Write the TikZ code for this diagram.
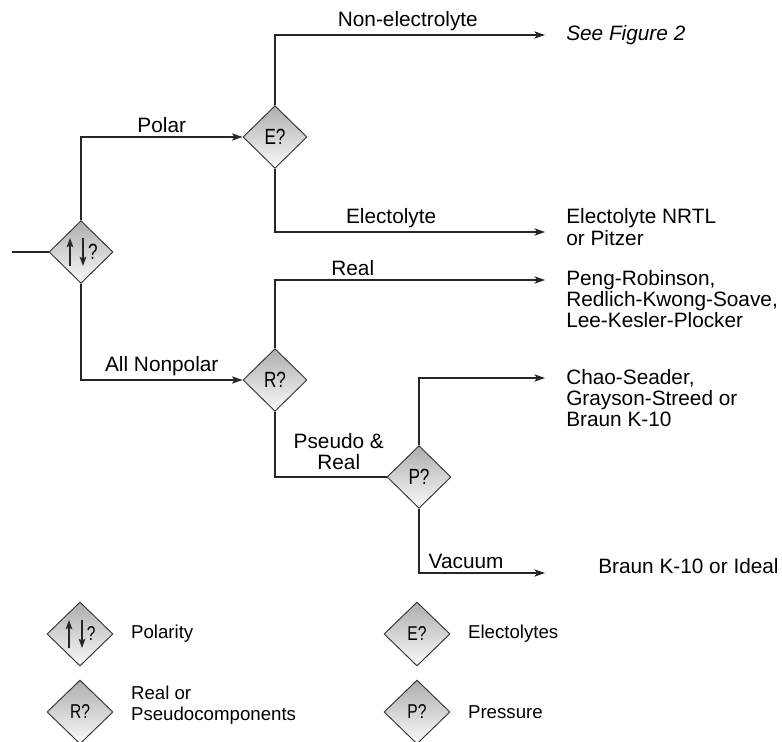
\documentclass[tikz,border=0pt]{standalone}
\usepackage{fontspec}
\setmainfont{Liberation Sans}
\newfontfamily\condfont{Liberation Sans}[FakeStretch=0.78]
\usetikzlibrary{shapes.geometric,arrows.meta,positioning}

\tikzset{
  dia/.style={diamond, draw=black!80, line width=0.7pt, top color=black!32,
    bottom color=black!2, minimum width=48pt, minimum height=47pt, inner sep=0pt,
    font=\condfont\fontsize{16.5}{17}\selectfont},
  ldia/.style={dia, minimum width=49.5pt, minimum height=48pt,
    font=\condfont\fontsize{15}{16}\selectfont},
  lbl/.style={font=\fontsize{15.6}{16}\selectfont, inner sep=3pt},
  res/.style={lbl, anchor=west, align=left, inner sep=0pt},
  leg/.style={anchor=west, align=left, inner sep=0pt, font=\fontsize{14}{16}\selectfont},
  flow/.style={line width=0.8pt, draw=black!85},
  arr/.style={flow, -{Stealth[length=8pt,width=5.5pt,inset=2pt]}},
  pol/.style={flow, line width=0.9pt, -{Stealth[length=7pt,width=5pt,inset=1.5pt]}},
}

\begin{document}
\begin{tikzpicture}[x=0.75pt,y=-0.75pt]
\useasboundingbox (0,0) rectangle (782,742);
\node[dia] (pol) at (81,252) {\hspace*{18pt}?};
\node[dia] (elec) at (275,137) {E?};
\node[dia] (real) at (275,380) {R?};
\node[dia] (pres) at (419,477) {P?};
\coordinate (in) at (12,252);
%----------------------------------
\coordinate (e1) at (545,35);
\coordinate (e2) at (545,232);
\coordinate (e3) at (545,280);
\coordinate (e4) at (545,378);
\coordinate (e5) at (545,573);
\node[res, font=\fontsize{15.6}{16}\selectfont\itshape] (fig2) at (566,35) {See Figure 2};
\node[res] (nrtl) at (566,227) {Electolyte NRTL\\or Pitzer};
\node[res] (peng) at (566,299) {Peng-Robinson,\\Redlich-Kwong-Soave,\\Lee-Kesler-Plocker};
\node[res] (chao) at (566,398) {Chao-Seader,\\Grayson-Streed or\\Braun K-10};
\node[res] (ideal) at (598,566) {Braun K-10 or Ideal};
%----------------------------------
\draw[flow] (in) -- (pol.west);
\draw[arr] (pol.north) |- node[lbl, above, pos=0.75] {Polar} (elec.west);
\draw[arr] (pol.south) |- node[lbl, above, pos=0.75] {All Nonpolar} (real.west);
\draw[arr] (elec.north) |- node[lbl, above, pos=0.746] {Non-electrolyte} (e1);
\draw[arr] (elec.south) |- node[lbl, above, pos=0.715] {Electolyte} (e2);
\draw[arr] (real.north) |- node[lbl, above, pos=0.644] {Real} (e3);
\draw[flow] (real.south) |- node[lbl, above, pos=0.786, align=center, inner sep=5pt] {Pseudo \&\\Real} (pres.west);
\draw[arr] (pres.north) |- (e4);
\draw[arr] (pres.south) |- node[lbl, above, pos=0.687] {Vacuum} (e5);
%---------------------------------- legend
\node[ldia] (lpol) at (80,634) {\hspace*{17pt}?};
\node[ldia] (lreal) at (80,712) {R?};
\node[ldia] (lelec) at (417,634) {E?};
\node[ldia] (lpres) at (417,712) {P?};
\node[leg, right=13pt of lpol.east] (tpol) {Polarity};
\node[leg, right=13pt of lreal.east, yshift=5pt] (treal) {Real or\\Pseudocomponents};
\node[leg, right=13pt of lelec.east] (telec) {Electolytes};
\node[leg, right=13pt of lpres.east] (tpres) {Pressure};
%---------------------------------- up/down arrows
\foreach \n in {pol,lpol} {
  \draw[pol] ([shift={(-11,14)}]\n.center) -- ([shift={(-11,-14)}]\n.center);
  \draw[pol] ([shift={(2,-14)}]\n.center) -- ([shift={(2,14)}]\n.center);
}
\end{tikzpicture}
\end{document}
